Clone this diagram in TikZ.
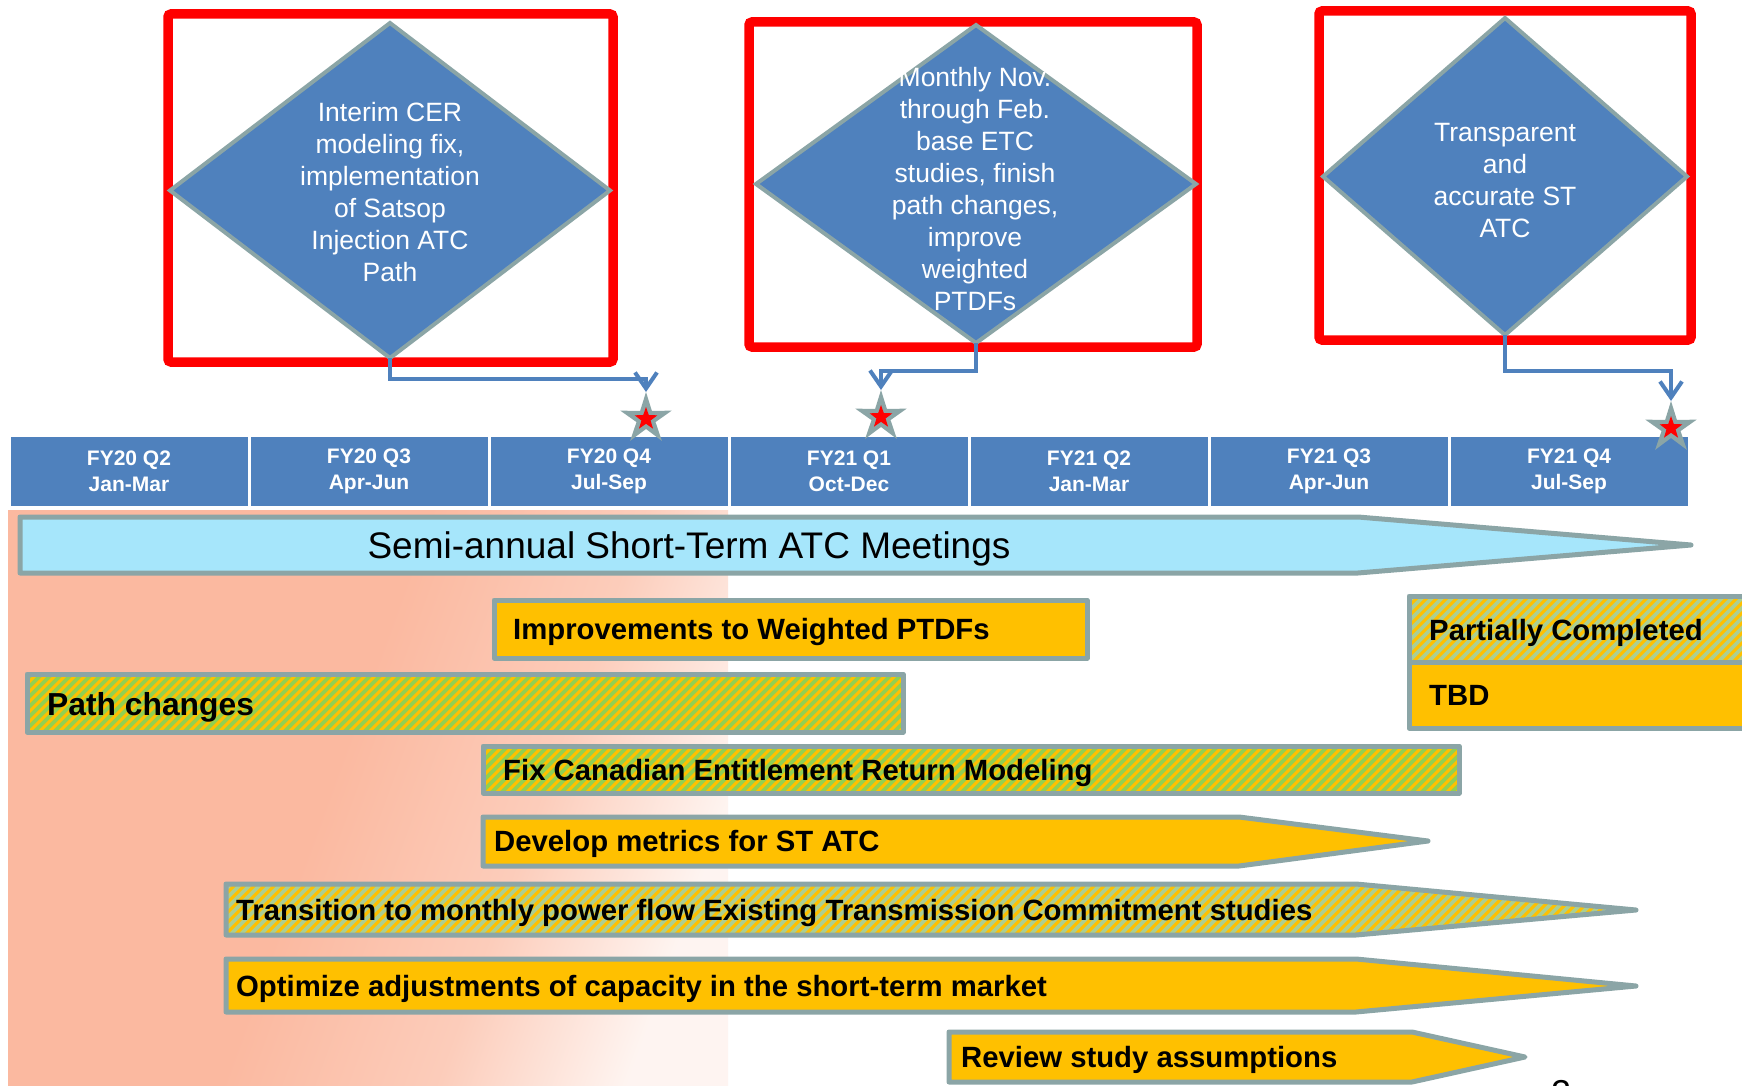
\documentclass[tikz,border=0pt]{standalone}
\usepackage{fontspec}
\setmainfont{Liberation Sans}
\usetikzlibrary{shapes.geometric,arrows.meta}

\definecolor{qblue}{HTML}{4F81BD}
\definecolor{edge}{HTML}{8BA5A6}
\definecolor{sky}{HTML}{A6E6FB}
\definecolor{amber}{HTML}{FFC000}
\definecolor{leaf}{HTML}{92D050}
\definecolor{sage}{HTML}{ACCF91}
\definecolor{salmon}{HTML}{FBB9A0}
\definecolor{alarm}{HTML}{FF0000}

% left-to-right fade of the "done" backdrop
\pgfdeclarehorizontalshading{salmonfade}{100bp}{color(0bp)=(salmon); color(25bp)=(salmon); color(47bp)=(salmon); color(62bp)=(salmon!72!white); color(75bp)=(salmon!15!white); color(100bp)=(salmon!15!white)}

% fill a closed path with a base colour and diagonal amber stripes
% #1 path, #2 base colour, #3 first stripe x, #4 stripe count, #5 bottom y, #6 height
\newcommand\hatchfill[6]{%
  \fill[#2] #1;
  \begin{scope}
    \clip #1;
    \foreach \hi [evaluate=\hi as \hx using #3+10*\hi] in {0,...,#4}
      \draw[stripe] (\hx,#5) -- ++(#6,-#6);
  \end{scope}}

\tikzset{
  qcell/.style={rectangle, fill=qblue, draw=white, line width=3pt, minimum width=240pt,
    minimum height=72pt, inner sep=0pt, text=white, align=center,
    font=\bfseries\fontsize{21}{26}\selectfont},
  gem/.style={diamond, fill=qblue, draw=edge, line width=4pt, inner sep=0pt, outer sep=0pt},
  gemtext/.style={text=white, align=center, inner sep=0pt, font=\fontsize{26.5}{32}\selectfont},
  alarmbox/.style={rectangle, draw=alarm, line width=9.5pt, rounded corners=3pt, inner sep=0pt},
  link/.style={draw=qblue, line width=4pt, -{Straight Barb[length=16pt,width=22pt]}},
  milestone/.style={star, star points=5, star point ratio=2.7, fill=edge, inner sep=0pt,
    outer sep=0pt, minimum size=54pt},
  redstar/.style={star, star points=5, star point ratio=2.5, fill=alarm, inner sep=0pt,
    minimum size=24pt},
  bar/.style={draw=edge, line width=5pt, line join=round},
  stripe/.style={draw=amber, line width=2.9pt},
  tasklabel/.style={anchor=west, inner sep=0pt, text height=21pt, text depth=0pt,
    font=\bfseries\fontsize{29.3}{34}\selectfont},
}

\begin{document}
\begin{tikzpicture}[x=1pt,y=-1pt]
\useasboundingbox (0,0) rectangle (1742,1086);
\clip (0,0) rectangle (1742,1086);
\fill[white] (0,0) rectangle (1742,1086);

% completed period backdrop
\shade[shading=salmonfade, shading angle=-20] (8,510) rectangle (728,1090);

% quarter timeline
\node[qcell] (q1) at (129,471)  {FY20 Q2\\Jan-Mar};
\node[qcell] (q2) at (369,471)  {FY20 Q3\\Apr-Jun};
\node[qcell] (q3) at (609,471)  {FY20 Q4\\Jul-Sep};
\node[qcell] (q4) at (849,471)  {FY21 Q1\\Oct-Dec};
\node[qcell] (q5) at (1089,471) {FY21 Q2\\Jan-Mar};
\node[qcell] (q6) at (1329,471) {FY21 Q3\\Apr-Jun};
\node[qcell] (q7) at (1569,471) {FY21 Q4\\Jul-Sep};

% recurring meetings
\draw[bar, fill=sky] (20,517) -- (1358,517) -- (1691,545) -- (1358,573) -- (20,573) -- cycle;
\node[inner sep=0pt, text height=26.5pt, text depth=0pt, font=\fontsize{37}{44}\selectfont]
  (semi) at (689,545) {Semi-annual Short-Term ATC Meetings};

% work items
\draw[bar, fill=amber] (494,600) rectangle (1087,658);
\node[tasklabel] (t1) at (513,629) {Improvements to Weighted PTDFs};

\hatchfill{(27,674) rectangle (903,732)}{leaf}{-31}{94}{732}{58}
\draw[bar] (27,674) rectangle (903,732);
\node[tasklabel, text height=22.8pt, font=\bfseries\fontsize{31.8}{36}\selectfont]
  (t2) at (47,704) {Path changes};

\hatchfill{(483,746) rectangle (1459,793)}{leaf}{436}{103}{793}{47}
\draw[bar] (483,746) rectangle (1459,793);
\node[tasklabel] (t3) at (503,770) {Fix Canadian Entitlement Return Modeling};

\draw[bar, fill=amber] (483,817) -- (1239,817) -- (1428,841) -- (1239,866) -- (483,866) -- cycle;
\node[tasklabel] (t4) at (494,841) {Develop metrics for ST ATC};

\hatchfill{(226,884) -- (1356,884) -- (1636,910) -- (1356,935) -- (226,935) -- cycle}{sage}{175}{147}{935}{51}
\draw[bar] (226,884) -- (1356,884) -- (1636,910) -- (1356,935) -- (226,935) -- cycle;
\node[tasklabel] (t5) at (236,910) {Transition to monthly power flow Existing Transmission Commitment studies};

\draw[bar, fill=amber] (226,959) -- (1356,959) -- (1636,986) -- (1356,1012) -- (226,1012) -- cycle;
\node[tasklabel] (t6) at (236,986) {Optimize adjustments of capacity in the short-term market};

\draw[bar, fill=amber] (949,1032) -- (1412,1032) -- (1525,1057) -- (1412,1082) -- (949,1082) -- cycle;
\node[tasklabel] (t7) at (961,1057) {Review study assumptions};

% legend
\hatchfill{(1409,596) rectangle (1760,662)}{sage}{1343}{40}{662}{66}
\draw[bar, fill=amber] (1409,662) rectangle (1760,728);
\draw[bar] (1409,596) rectangle (1760,662);
\node[tasklabel] (k1) at (1429,630) {Partially Completed};
\node[tasklabel] (k2) at (1429,695) {TBD};

% milestone decisions
\node[alarmbox, minimum width=445pt, minimum height=348pt] (r1) at (390.5,188) {};
\node[alarmbox, minimum width=448pt, minimum height=325pt] (r2) at (973,184.5) {};
\node[alarmbox, minimum width=372pt, minimum height=329pt] (r3) at (1505,175.5) {};

\node[gem, minimum width=440pt, minimum height=335pt] (d1) at (390,190.5) {};
\node[gem, minimum width=440pt, minimum height=318pt] (d2) at (976,184) {};
\node[gem, minimum width=364pt, minimum height=317pt] (d3) at (1505,176.5) {};

\node[gemtext] (d1t) at (390,192) {Interim CER\\modeling fix,\\implementation\\of Satsop\\Injection ATC\\Path};
\node[gemtext] (d2t) at (975,189) {Monthly Nov.\\through Feb.\\base ETC\\studies, finish\\path changes,\\improve\\weighted\\PTDFs};
\node[gemtext] (d3t) at (1505,181) {Transparent\\and\\accurate ST\\ATC};

% milestone stars on the timeline
\node[milestone] (s1) at (646,419) {};
\node[redstar] (s1c) at (s1.center) {};
\node[milestone] (s2) at (881,417) {};
\node[redstar] (s2c) at (s2.center) {};
\node[milestone] (s3) at (1671,428) {};
\node[redstar] (s3c) at (s3.center) {};

% decision to milestone connectors
\draw[link] (d1.south) |- ([yshift=13pt]s1.north) -- (s1.north);
\draw[link] (d2.south) |- ([yshift=19pt]s2.north) -- (s2.north);
\draw[link] (d3.south) |- ([yshift=30pt]s3.north) -- (s3.north);

% page number peeking in at the bottom edge
\node[anchor=base west, inner sep=0pt, font=\fontsize{36}{40}\selectfont] (pg) at (1551,1105) {2};
\end{tikzpicture}
\end{document}
